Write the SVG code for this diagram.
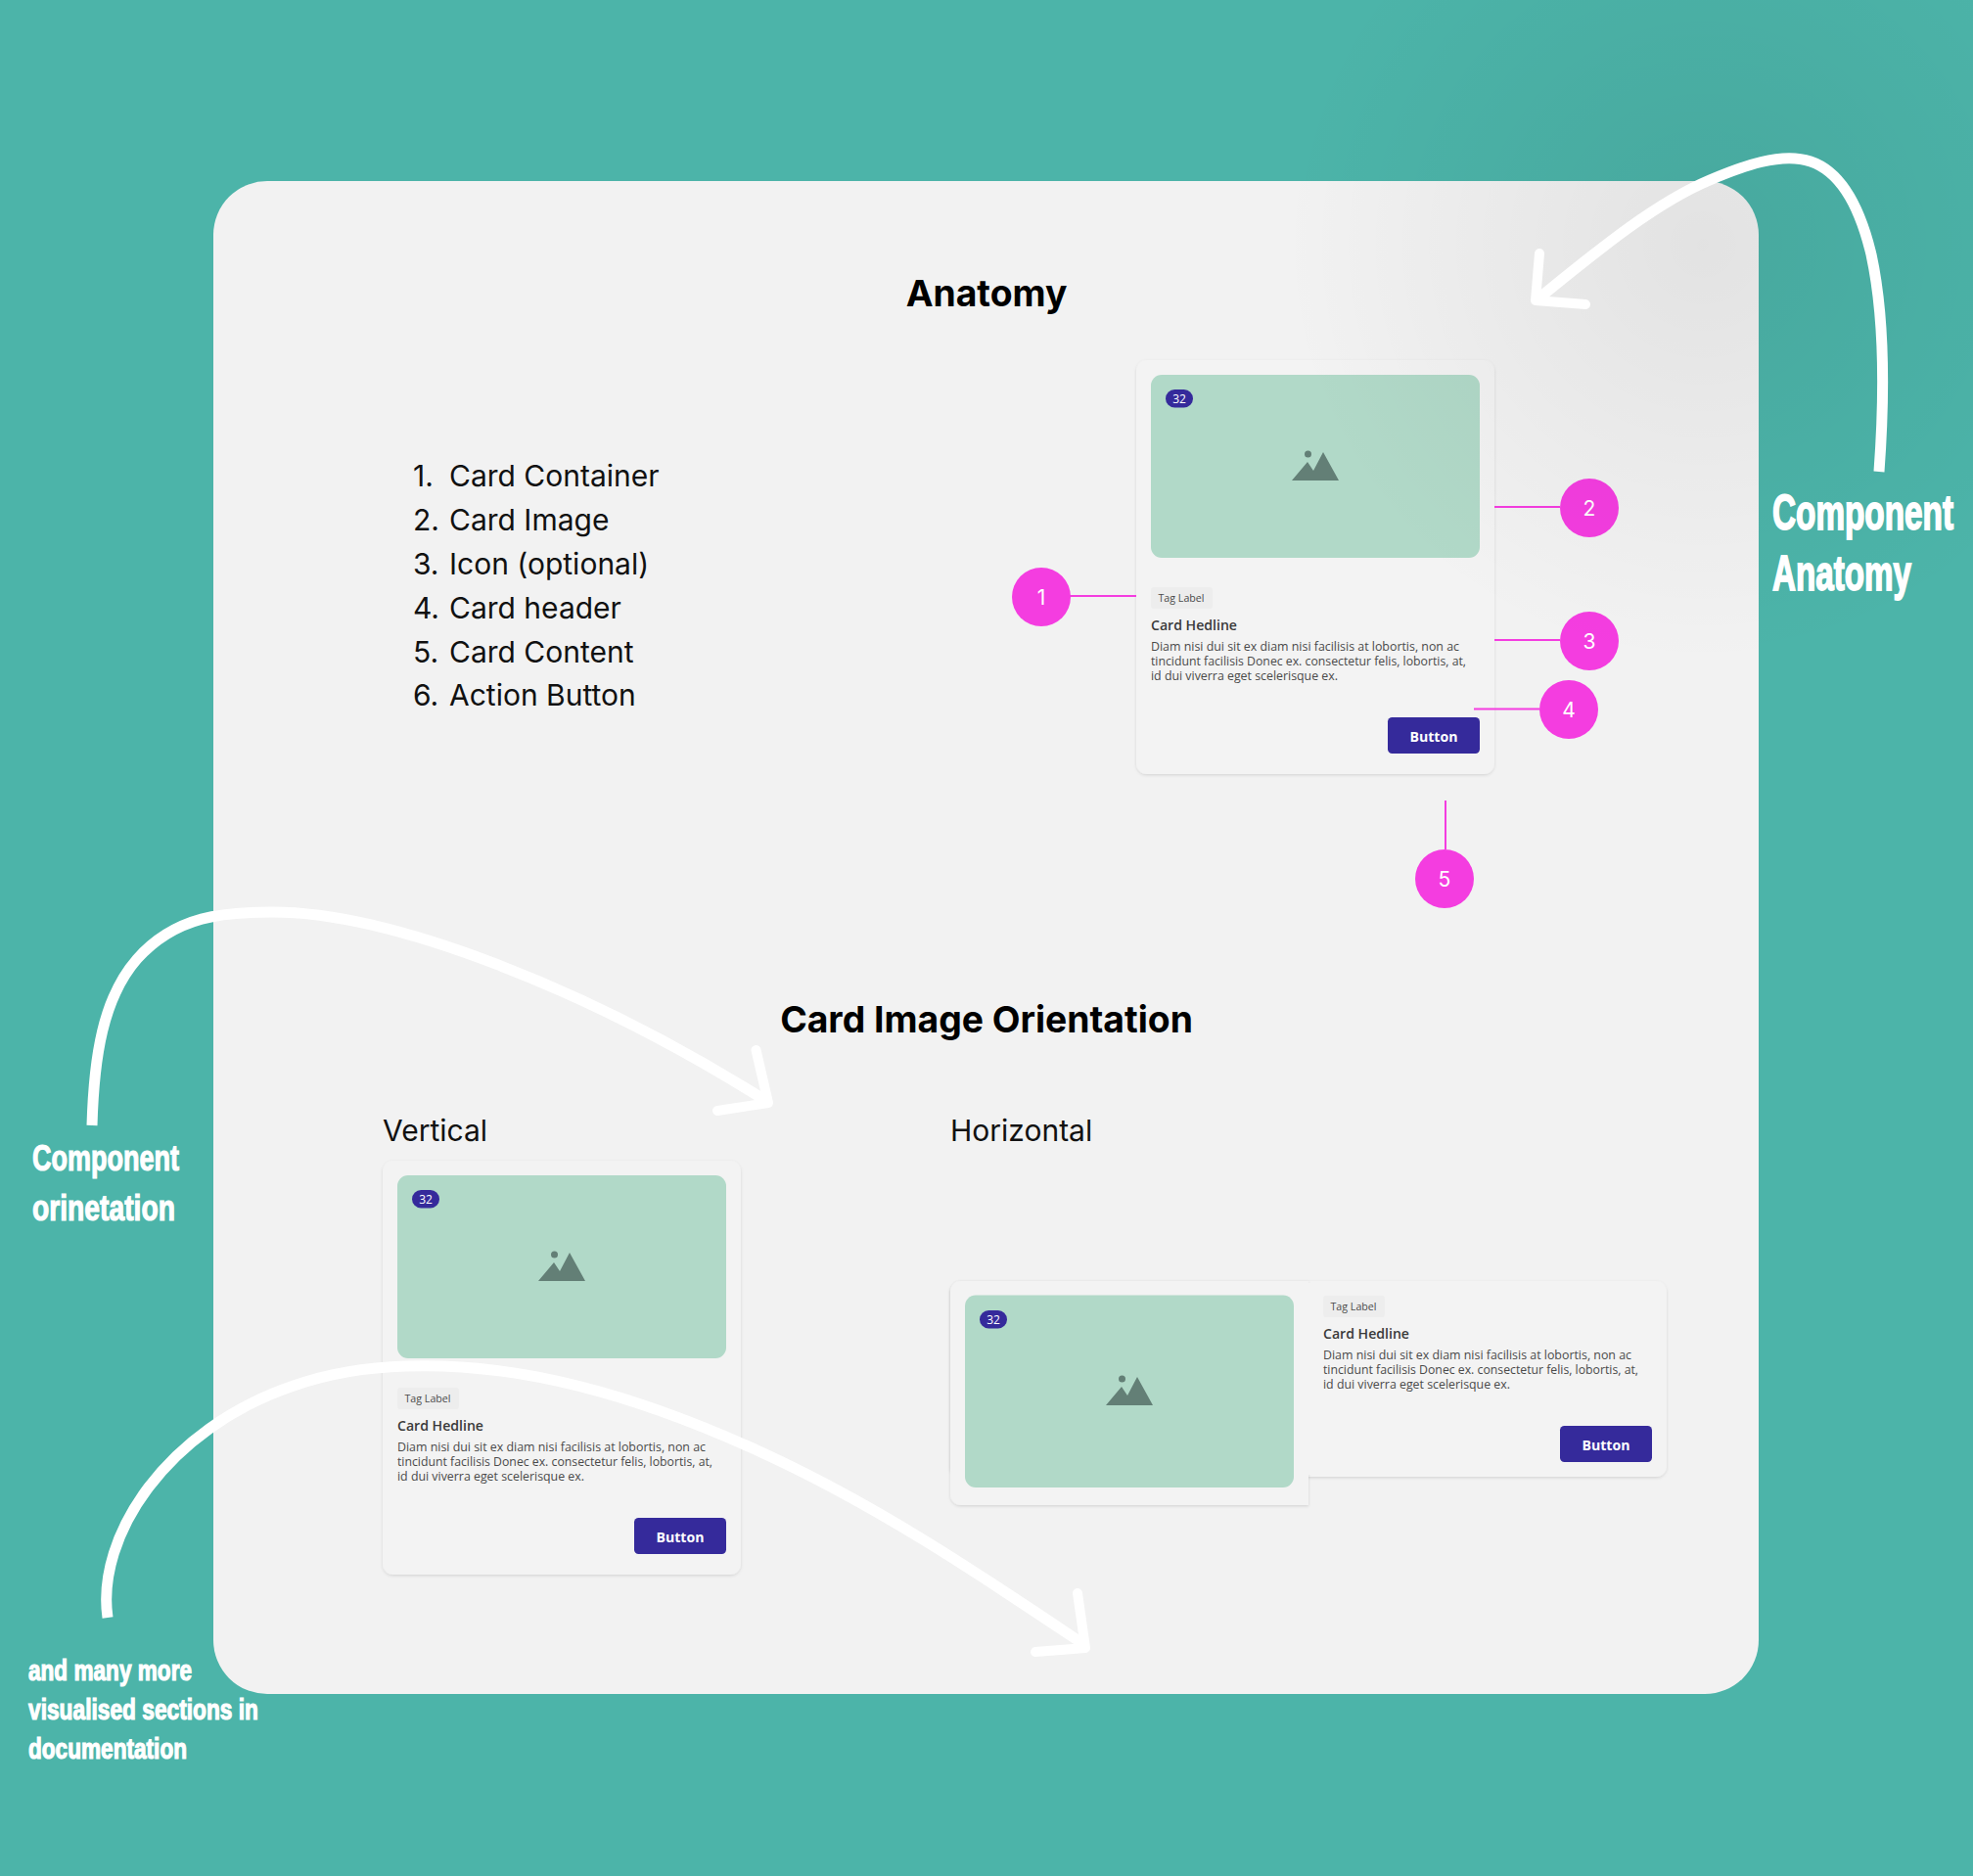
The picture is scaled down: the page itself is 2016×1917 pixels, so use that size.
<svg xmlns="http://www.w3.org/2000/svg" width="2016" height="1917" viewBox="0 0 2016 1917">
<defs>
<radialGradient id="shade" gradientUnits="userSpaceOnUse" cx="1740" cy="250" r="430"><stop offset="0" stop-color="#000" stop-opacity=".065"/><stop offset="1" stop-color="#000" stop-opacity="0"/></radialGradient>
<filter id="sh" x="-5%" y="-5%" width="110%" height="110%"><feDropShadow dx="0" dy="1.200" stdDeviation="1.500" flood-color="#000" flood-opacity=".13"/></filter>
<g id="icon"><path d="M-24 14 L-8 -5 L-2 4 L8 -15 L24 14 Z" fill="#637f76"/><circle cx="-7.500" cy="-13" r="3.500" fill="#637f76"/></g>
<g id="card-body">
<rect x="0" y="0" width="63" height="22" rx="3" fill="#ededed"/>
<text class="tag" x="7.500" y="15" textLength="47" lengthAdjust="spacingAndGlyphs">Tag Label</text>
<text class="head" x="0" y="44" textLength="88" lengthAdjust="spacingAndGlyphs">Card Hedline</text>
<text class="body" x="0" y="65" textLength="315" lengthAdjust="spacingAndGlyphs">Diam nisi dui sit ex diam nisi facilisis at lobortis, non ac</text>
<text class="body" x="0" y="80" textLength="322" lengthAdjust="spacingAndGlyphs">tincidunt facilisis Donec ex. consectetur felis, lobortis, at,</text>
<text class="body" x="0" y="95" textLength="191" lengthAdjust="spacingAndGlyphs">id dui viverra eget scelerisque ex.</text>
</g>
<g id="btn"><rect x="0" y="0" width="94" height="37" rx="4.500" fill="#352a9b"/><text class="btn" x="47" y="24.500" text-anchor="middle" textLength="49" lengthAdjust="spacingAndGlyphs">Button</text></g>
<g id="badge"><rect x="0" y="0" width="28" height="18.500" rx="9.250" fill="#352a9b"/><text class="bdg" x="14" y="13.500" text-anchor="middle">32</text></g>
</defs>
<style>
text{font-family:"Inter","Liberation Sans",sans-serif}
.t{font-weight:700;font-size:37.300px;text-anchor:middle;fill:#000}
.li{font-size:30px;fill:#111}
.sub{font-size:30px;fill:#111}
.num{font-size:21px;fill:#fff;text-anchor:middle}
.tag,.head,.body,.btn,.bdg{font-family:"Open Sans","Noto Sans",sans-serif}
.tag{font-size:11px;fill:#4a4a4a}
.head{font-size:15px;font-weight:600;fill:#3a3a3a}
.body{font-size:13px;fill:#4a4a4a}
.btn{font-size:15px;font-weight:700;fill:#fff}
.bdg{font-size:12px;fill:#fff}
.hand{font-family:"Liberation Sans",sans-serif;font-weight:700;fill:#fff;stroke:#fff;stroke-width:1.200}
.card{fill:#f3f3f3;filter:url(#sh)}
.img{fill:#b1d9c8}
.lead{stroke:#f43de0;stroke-width:2;fill:none}
.dot{fill:#f43de0}
.arr{stroke:#fff;stroke-width:11;fill:none}
.hd{stroke:#fff;stroke-width:10;fill:none;stroke-linecap:round;stroke-linejoin:round}
</style>
<rect width="2016" height="1917" fill="#4cb4a9"/>
<rect id="panel" x="218" y="185" width="1579" height="1546" rx="55" fill="#f2f2f2"/>
<text class="t" x="1008" y="313">Anatomy</text>
<text class="t" x="1008" y="1054.500">Card Image Orientation</text>
<g id="anatomy-list">
<text class="li" x="422" y="497">1.</text><text class="li" x="459" y="497">Card Container</text>
<text class="li" x="422" y="542">2.</text><text class="li" x="459" y="542">Card Image</text>
<text class="li" x="422" y="587">3.</text><text class="li" x="459" y="587">Icon (optional)</text>
<text class="li" x="422" y="632">4.</text><text class="li" x="459" y="632">Card header</text>
<text class="li" x="422" y="677">5.</text><text class="li" x="459" y="677">Card Content</text>
<text class="li" x="422" y="721">6.</text><text class="li" x="459" y="721">Action Button</text>
</g>
<text class="sub" x="391" y="1165.500">Vertical</text>
<text class="sub" x="971" y="1165.500">Horizontal</text>
<g id="card-anatomy">
<rect class="card" x="1161" y="368" width="366" height="423" rx="11"/>
<rect class="img" x="1176" y="383" width="336" height="187" rx="11"/>
<use href="#badge" x="1191" y="398"/>
<use href="#icon" x="1344" y="477"/>
<use href="#card-body" x="1176" y="600"/>
<use href="#btn" x="1418" y="733"/>
</g>
<g id="card-vertical">
<rect class="card" x="391" y="1186" width="366" height="423" rx="11"/>
<rect class="img" x="406" y="1201" width="336" height="187" rx="11"/>
<use href="#badge" x="421" y="1216"/>
<use href="#icon" x="574" y="1295"/>
<use href="#card-body" x="406" y="1418"/>
<use href="#btn" x="648" y="1551"/>
</g>
<g id="card-horizontal">
<rect class="card" x="971" y="1309" width="732" height="200" rx="11"/>
<path class="card" d="M982 1309H1337V1538H982a11 11 0 0 1-11-11V1320a11 11 0 0 1 11-11Z"/>
<rect x="1337" y="1311" width="355" height="196" fill="#f3f3f3"/>
<rect class="img" x="986" y="1323.500" width="336" height="196.500" rx="11"/>
<use href="#badge" x="1001" y="1339"/>
<use href="#icon" x="1154" y="1422"/>
<use href="#card-body" x="1352" y="1324"/>
<use href="#btn" x="1594" y="1457"/>
</g>
<g id="connectors">
<path class="lead" d="M1093 609H1161M1527 518H1594M1527 654H1594M1506 724.500H1573M1477 818V868"/>
</g>
<g id="n1"><circle class="dot" cx="1064" cy="610" r="30"/><text class="num" x="1064" y="618">1</text></g>
<g id="n2"><circle class="dot" cx="1624" cy="519" r="30"/><text class="num" x="1624" y="527">2</text></g>
<g id="n3"><circle class="dot" cx="1624" cy="655" r="30"/><text class="num" x="1624" y="663">3</text></g>
<g id="n4"><circle class="dot" cx="1603" cy="725" r="30"/><text class="num" x="1603" y="733">4</text></g>
<g id="n5"><circle class="dot" cx="1476" cy="898" r="30"/><text class="num" x="1476" y="906">5</text></g>
<rect id="shade-overlay" x="1300" y="0" width="716" height="700" fill="url(#shade)"/>
<g id="arrows">
<path class="arr" d="M1920 482C1926 400 1925 320 1912 260C1900 210 1880 175 1850 165C1820 155 1780 170 1747 184C1690 208 1630 258 1572 305"/>
<path class="hd" d="M1573 259L1569 307L1620 311"/>
<path class="arr" d="M94 1150C96 1080 105 1020 140 980C180 935 230 932 278 932C400 932 600 1010 783 1125"/>
<path class="hd" d="M772.500 1073L785 1127L733 1135"/>
<path class="arr" d="M110 1653C98 1570 170 1460 300 1416C340 1402 380 1397 415 1396C530 1392 650 1425 780 1485C900 1540 1010 1615 1107 1680"/>
<path class="hd" d="M1101 1628L1109 1684L1058 1688"/>
</g>
<g id="labels">
<text class="hand" transform="translate(1811 541) scale(1 1.500)" font-size="33.300" textLength="185" lengthAdjust="spacingAndGlyphs">Component</text>
<text class="hand" transform="translate(1811 603) scale(1 1.500)" font-size="33.300" textLength="142" lengthAdjust="spacingAndGlyphs">Anatomy</text>
<text class="hand" x="33" y="1196" font-size="37" textLength="150" lengthAdjust="spacingAndGlyphs">Component</text>
<text class="hand" x="33" y="1247" font-size="37" textLength="146" lengthAdjust="spacingAndGlyphs">orinetation</text>
<text class="hand" x="29" y="1717" font-size="30" textLength="167" lengthAdjust="spacingAndGlyphs">and many more</text>
<text class="hand" x="29" y="1757" font-size="30" textLength="235" lengthAdjust="spacingAndGlyphs">visualised sections in</text>
<text class="hand" x="29" y="1797" font-size="30" textLength="162" lengthAdjust="spacingAndGlyphs">documentation</text>
</g>
</svg>
